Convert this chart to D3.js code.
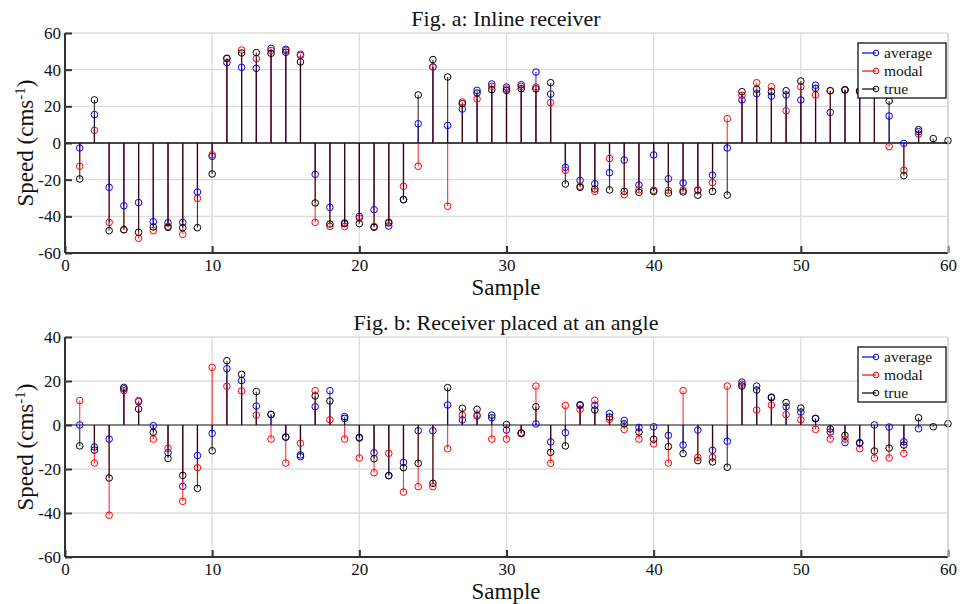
<!DOCTYPE html>
<html>
<head>
<meta charset="utf-8">
<script src="https://cdn.jsdelivr.net/npm/d3@7"></script>
<style>
  body { margin: 0; background: #fff; }
  text { font-family: "Liberation Serif", "DejaVu Serif", serif; }
</style>
</head>
<body>
<div id="chart"></div>
<script>
// Samples 1..60
var samples = d3.range(1, 61);

// Fig. a: Inline receiver
var avgA = [-2.7, 15.5, -24.2, -34.2, -32.5, -42.9, -43.5, -43.3, -26.7, -7.3,
            43.8, 41.3, 40.7, 51.6, 51.1, 47.8, -17.1, -35.1, -43.6, -40,
            -36.4, -45.3, -30.9, 10.5, 41.5, 9.6, 18.5, 28.7, 32.2, 30.5,
            31.8, 38.7, 26.7, -13.3, -20.4, -22.2, -16.2, -9.3, -22.9, -6.5,
            -19.5, -21.8, -25.8, -17.5, -2.7, 23.5, 26.9, 25.6, 26.2, 23.5,
            31.5, 16.7, 29, 28, 28, 14.7, -0.2, 6.2, null, null];
var modalA = [-12.7, 6.9, -43.3, -47.3, -52, -47.8, -45.5, -49.8, -30.2, -6.4,
              46, 50.7, 46, 50.4, 50.5, 48.4, -43.3, -45.5, -45.5, -41,
              -45.5, -43.1, -23.6, -12.7, 41.5, -34.5, 22.4, 24, 30.9, 29.5,
              30.9, 30.5, 22, -14.9, -23.6, -26.4, -8.5, -28.2, -25.5, -25.8,
              -25.8, -25.8, -25.6, -21.6, 13.3, 26, 32.9, 30.7, 17.6, 30.7,
              26.2, 28.5, 29, 28.3, 28, -2, -14.9, 4.9, null, null];
var trueA = [-19.6, 23.5, -47.8, -47.3, -48.7, -45.8, -46, -46.2, -46.2, -16.9,
             46.2, 49.1, 49.3, 48.9, 49.5, 44.2, -32.7, -44.2, -44, -44,
             -46, -43.6, -30.9, 26.2, 45.5, 36, 21.5, 27.3, 29.1, 28.7,
             29.6, 29.5, 32.9, -22.4, -24.2, -25.1, -25.6, -26.4, -26.9, -26.5,
             -27.3, -26.7, -28.5, -26.4, -28.4, 28, 29.3, 28, 28.5, 33.8,
             29.8, 28.5, 29, 28.5, 29, 22.9, -17.8, 7.3, 2.4, 1.3];

// Fig. b: Receiver placed at an angle
var avgB = [0, -10, -6.4, 16.4, 10.6, -0.3, -12.6, -27.9, -13.9, -3.8,
            25.6, 20.2, 8.6, 4.8, -5.5, -14.4, 8.3, 15.6, 3.8, -5.6,
            -12.6, -23, -17, -2.6, -2.6, 9.1, 2.3, 4.1, 3.3, -2.3,
            -3.8, 0.5, -7.7, -3.5, 8.9, 8.9, 5.2, 2.1, -1.1, -0.8,
            -4.7, -9.1, -2.3, -11.5, -7.4, 19.5, 17.7, 12.7, 8.3, 5.9,
            3, -3.2, -8, -8.3, 0, -0.9, -7.6, -1.7, null, null];
var modalB = [11.1, -17.3, -41, 15.6, 11.1, -6.4, -10.6, -34.7, -19.4, 26.2,
              17.6, 15.5, 4.5, -6.4, -17.3, -8.3, 15.6, 2.4, -6.4, -15,
              -21.7, -12.9, -30.5, -28, -28, -10.8, 4.5, 4.5, -6.4, -6.4,
              -3.9, 17.7, -17.4, 8.9, 7.1, 11.2, 2.6, -2, -6.4, -8.6,
              -17.3, 15.6, -14.7, -14.7, 17.7, 18.5, 6.8, 9.1, 4.7, 2.4,
              -2, -6.4, -6.4, -10.8, -15, -15, -12.9, null, null, null];
var trueB = [-9.5, -11.4, -24.1, 17.1, 7.3, -3.3, -15.2, -22.9, -28.8, -11.7,
             29.2, 23, 15.2, 4.8, -5.5, -13.6, 13.2, 10.9, 3, -5.9,
             -15.3, -23, -19.4, -17.4, -26.5, 17, 7.6, 7.1, 4.5, 0.2,
             -3.6, 8.3, -12.4, -9.5, 9.2, 6.8, 3.6, 0.5, -3.2, -6.5,
             -9.8, -13, -16.2, -16.8, -19.2, 17.7, 15.9, 12.4, 10.2, 7.7,
             2.9, -1.8, -4.7, -8, -11.8, -10.5, -9.1, 3.3, -0.8, 0.6];

var xTicks = [0, 10, 20, 30, 40, 50, 60];
var yTicksA = [-60, -40, -20, 0, 20, 40, 60];
var yTicksB = [-60, -40, -20, 0, 20, 40];

var seriesNames = ["average", "modal", "true"];
var seriesColors = ["#0000ff", "#ff0000", "#000000"];

var W = 964, H = 604;
var svg = d3.select("#chart").append("svg")
    .attr("width", W)
    .attr("height", H);

function drawPanel(opts) {
    var left = 65, right = 948;
    var x = d3.scaleLinear().domain([0, 60]).range([left, right]);
    var y = d3.scaleLinear().domain(opts.yDomain).range([opts.bottom, opts.top]);

    var g = svg.append("g");

    // grid
    g.append("g").selectAll("line.gx")
        .data(xTicks.slice(1))
        .enter().append("line")
        .attr("x1", function(d) { return x(d); })
        .attr("x2", function(d) { return x(d); })
        .attr("y1", opts.top).attr("y2", opts.bottom)
        .attr("stroke", "#dcdcdc").attr("stroke-width", 1.3);
    g.append("g").selectAll("line.gy")
        .data(opts.yTicks.slice(1))
        .enter().append("line")
        .attr("x1", left).attr("x2", right)
        .attr("y1", function(d) { return y(d); })
        .attr("y2", function(d) { return y(d); })
        .attr("stroke", "#dcdcdc").attr("stroke-width", 1.3);

    // baseline
    g.append("line")
        .attr("x1", left).attr("x2", right)
        .attr("y1", y(0)).attr("y2", y(0))
        .attr("stroke", opts.baseColor).attr("stroke-width", 1.5);

    // stems and markers
    opts.series.forEach(function(vals, i) {
        var pts = samples.map(function(s, k) { return { s: s, v: vals[k] }; })
            .filter(function(d) { return d.v !== null; });
        g.append("g").selectAll("line")
            .data(pts)
            .enter().append("line")
            .attr("x1", function(d) { return x(d.s); })
            .attr("x2", function(d) { return x(d.s); })
            .attr("y1", y(0))
            .attr("y2", function(d) { return y(d.v); })
            .attr("stroke", seriesColors[i])
            .attr("stroke-opacity", 0.75)
            .attr("stroke-width", 1.2);
    });
    opts.series.forEach(function(vals, i) {
        var pts = samples.map(function(s, k) { return { s: s, v: vals[k] }; })
            .filter(function(d) { return d.v !== null; });
        g.append("g").selectAll("circle")
            .data(pts)
            .enter().append("circle")
            .attr("cx", function(d) { return x(d.s); })
            .attr("cy", function(d) { return y(d.v); })
            .attr("r", 3.3)
            .attr("fill", "none")
            .attr("stroke", seriesColors[i])
            .attr("stroke-width", 1);
    });

    // axes
    var fmt = function(d) { return String(d); };
    var xAxis = d3.axisBottom(x).tickValues(xTicks).tickSize(-7).tickPadding(9).tickFormat(fmt);
    var yAxis = d3.axisLeft(y).tickValues(opts.yTicks).tickSize(-7).tickPadding(4).tickFormat(fmt);
    var xa = g.append("g").attr("transform", "translate(0," + opts.bottom + ")").call(xAxis);
    var ya = g.append("g").attr("transform", "translate(" + left + ",0)").call(yAxis);
    [xa, ya].forEach(function(a) {
        a.select(".domain").attr("stroke", "#333").attr("stroke-width", 2);
        a.selectAll(".tick line").attr("stroke", "#333").attr("stroke-width", 2);
        a.selectAll(".tick text").attr("font-size", 17).attr("fill", "#111")
            .style("font-family", "'Liberation Serif', serif");
    });
    xa.select(".domain").attr("d", "M" + left + ",0H" + right);
    ya.select(".domain").attr("d", "M0," + opts.top + "V" + opts.bottom);
    xa.selectAll(".tick text").attr("dy", "0.55em");

    // right border
    g.append("line").attr("x1", right).attr("x2", right)
        .attr("y1", opts.top).attr("y2", opts.bottom)
        .attr("stroke", "#cfcfcf").attr("stroke-width", 1.3);

    // title
    g.append("text")
        .attr("x", 506).attr("y", opts.top - 7)
        .attr("text-anchor", "middle")
        .attr("font-size", 22)
        .attr("fill", "#111")
        .text(opts.title);

    // x label
    g.append("text")
        .attr("x", 506).attr("y", opts.bottom + 42)
        .attr("text-anchor", "middle")
        .attr("font-size", 23)
        .attr("fill", "#111")
        .text("Sample");

    // y label
    var yl = g.append("text")
        .attr("transform", "translate(33," + ((opts.top + opts.bottom) / 2) + ") rotate(-90)")
        .attr("text-anchor", "middle")
        .attr("font-size", 23)
        .attr("fill", "#111");
    yl.append("tspan").text("Speed (cms");
    yl.append("tspan").attr("dy", -8).attr("font-size", 15).text("-1");
    yl.append("tspan").attr("dy", 8).text(")");

    // legend
    var lg = g.append("g").attr("transform", "translate(" + opts.legX + "," + opts.legY + ")");
    lg.append("rect")
        .attr("width", 88).attr("height", 55)
        .attr("fill", "#fff").attr("stroke", "#111").attr("stroke-width", 1.3);
    seriesNames.forEach(function(n, i) {
        var yy = 10 + i * 18;
        lg.append("line").attr("x1", 4).attr("x2", 18).attr("y1", yy).attr("y2", yy)
            .attr("stroke", seriesColors[i]).attr("stroke-width", 1.2);
        lg.append("circle").attr("cx", 18).attr("cy", yy).attr("r", 2.8)
            .attr("fill", "none").attr("stroke", seriesColors[i]).attr("stroke-width", 1);
        lg.append("text").attr("x", 26).attr("y", yy + 5)
            .attr("font-size", 15.5).attr("fill", "#111").text(n);
    });
}

drawPanel({
    top: 33, bottom: 253, yDomain: [-60, 60], yTicks: yTicksA,
    series: [avgA, modalA, trueA], baseColor: "#111",
    title: "Fig.  a: Inline receiver", legX: 858, legY: 43
});
drawPanel({
    top: 337, bottom: 557, yDomain: [-60, 40], yTicks: yTicksB,
    series: [avgB, modalB, trueB], baseColor: "#666",
    title: "Fig. b: Receiver placed at an angle", legX: 858, legY: 347
});
</script>
</body>
</html>
